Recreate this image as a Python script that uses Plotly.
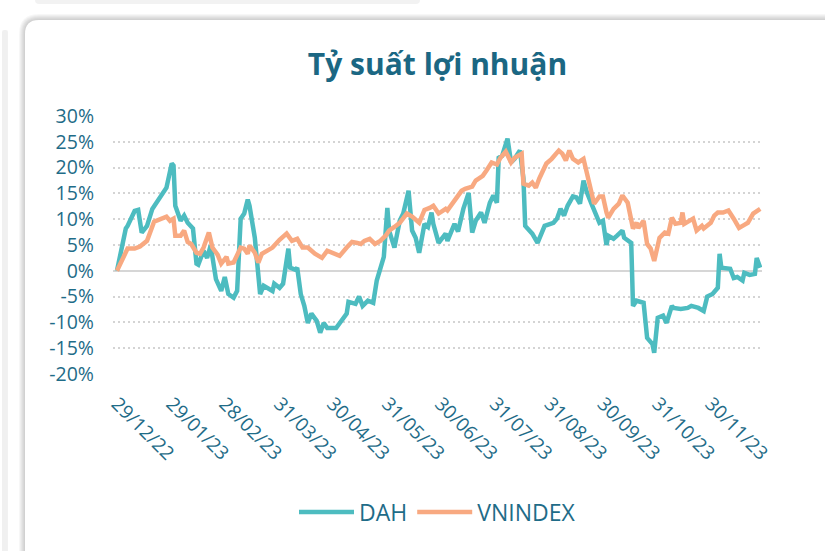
import plotly.graph_objects as go

# ---------------- data ----------------
dah_dates = ["2022-12-29","2023-01-03","2023-01-04","2023-01-08","2023-01-10","2023-01-12","2023-01-15","2023-01-18","2023-01-26","2023-01-29",
             "2023-01-30","2023-01-31","2023-02-03","2023-02-05","2023-02-07","2023-02-10","2023-02-12","2023-02-13","2023-02-16","2023-02-18",
             "2023-02-20","2023-02-23","2023-02-26","2023-02-28","2023-03-02","2023-03-05","2023-03-07","2023-03-09","2023-03-11","2023-03-13",
             "2023-03-14","2023-03-17","2023-03-20","2023-03-22","2023-03-27","2023-03-28","2023-03-31","2023-04-02","2023-04-05","2023-04-06",
             "2023-04-09","2023-04-10","2023-04-12","2023-04-14","2023-04-16","2023-04-18","2023-04-21","2023-04-23","2023-04-25","2023-04-27",
             "2023-05-02","2023-05-08","2023-05-09","2023-05-13","2023-05-15","2023-05-17","2023-05-20","2023-05-23","2023-05-25","2023-05-28",
             "2023-05-29","2023-05-31","2023-06-01","2023-06-04","2023-06-07","2023-06-09","2023-06-12","2023-06-14","2023-06-16","2023-06-18",
             "2023-06-20","2023-06-21","2023-06-23","2023-06-25","2023-06-26","2023-06-29","2023-07-03","2023-07-04","2023-07-08","2023-07-10",
             "2023-07-13","2023-07-16","2023-07-18","2023-07-20","2023-07-23","2023-07-25","2023-07-28","2023-07-30","2023-08-01","2023-08-02",
             "2023-08-04","2023-08-07","2023-08-09","2023-08-11","2023-08-14","2023-08-16","2023-08-17","2023-08-20","2023-08-21","2023-08-24",
             "2023-08-25","2023-08-28","2023-09-02","2023-09-04","2023-09-06","2023-09-08","2023-09-10","2023-09-13","2023-09-15","2023-09-17",
             "2023-09-19","2023-09-21","2023-09-24","2023-09-25","2023-09-28","2023-09-30","2023-10-02","2023-10-03","2023-10-06","2023-10-08",
             "2023-10-11","2023-10-12","2023-10-16","2023-10-17","2023-10-19","2023-10-23","2023-10-25","2023-10-28","2023-10-29","2023-10-31",
             "2023-11-03","2023-11-05","2023-11-08","2023-11-09","2023-11-13","2023-11-17","2023-11-19","2023-11-23","2023-11-26","2023-11-28",
             "2023-12-01","2023-12-04","2023-12-05","2023-12-06","2023-12-09","2023-12-11","2023-12-13","2023-12-15","2023-12-18","2023-12-19",
             "2023-12-22","2023-12-25","2023-12-26","2023-12-28"]
dah_values = [0, 8.2, 8.7, 11.6, 11.8, 7.4, 8.7, 12.0, 16.1, 20.8,
              20.4, 12.6, 9.7, 10.7, 9.3, 8.2, 1.4, 1.2, 3.9, 2.5,
              4.9, -1.6, -3.9, -1.2, -4.5, -5.2, -3.9, 10.1, 11.1, 13.8,
              12.6, 6.4, -4.5, -2.9, -3.9, -2.5, -3.3, -2.5, 4.3, 0.6,
              0.2, 0.6, -4.5, -6.8, -10.1, -8.3, -9.7, -12.0, -10.1, -11.1,
              -11.1, -8.3, -6.0, -6.4, -5.0, -6.8, -5.8, -6.2, -1.9, 1.9,
              2.7, 12.2, 7.8, 4.5, 9.7, 11.1, 15.5, 7.8, 6.4, 3.5,
              7.8, 9.1, 8.5, 11.3, 9.1, 5.4, 7.2, 5.8, 9.1, 7.6,
              12.0, 15.1, 7.4, 9.7, 11.3, 9.3, 13.2, 14.6, 13.2, 21.9,
              22.3, 25.6, 21.0, 21.7, 23.3, 17.9, 8.7, 7.4, 7.2, 5.4,
              6.2, 8.7, 9.3, 10.1, 12.0, 10.7, 12.6, 14.4, 14.2, 13.0,
              17.5, 15.1, 12.6, 11.7, 9.3, 9.7, 5.0, 6.8, 6.2, 6.8,
              7.8, 6.4, 5.4, -6.8, -5.8, -6.2, -13.0, -14.2, -15.9, -9.1,
              -8.7, -10.1, -6.8, -7.2, -7.4, -7.2, -6.8, -7.2, -7.8, -5.0,
              -4.5, -3.3, 3.3, 0.6, 0.4, 0.4, -1.4, -1.2, -1.9, -0.4,
              -0.8, -0.6, 2.5, 0.6]

vn_dates = ["2022-12-29","2023-01-01","2023-01-04","2023-01-08","2023-01-11","2023-01-15","2023-01-18","2023-01-19","2023-01-26","2023-01-28",
            "2023-01-30","2023-01-31","2023-02-03","2023-02-05","2023-02-07","2023-02-09","2023-02-12","2023-02-14","2023-02-16","2023-02-19",
            "2023-02-21","2023-02-24","2023-02-26","2023-03-01","2023-03-02","2023-03-05","2023-03-09","2023-03-11","2023-03-13","2023-03-14",
            "2023-03-17","2023-03-19","2023-03-21","2023-03-24","2023-03-27","2023-03-31","2023-04-04","2023-04-07","2023-04-10","2023-04-13",
            "2023-04-16","2023-04-20","2023-04-24","2023-04-27","2023-04-30","2023-05-04","2023-05-08","2023-05-11","2023-05-14","2023-05-16",
            "2023-05-18","2023-05-21","2023-05-24","2023-05-27","2023-05-30","2023-06-01","2023-06-04","2023-06-07","2023-06-11","2023-06-14",
            "2023-06-18","2023-06-21","2023-06-24","2023-06-26","2023-06-29","2023-07-03","2023-07-04","2023-07-08","2023-07-12","2023-07-14",
            "2023-07-18","2023-07-20","2023-07-24","2023-07-26","2023-07-29","2023-08-01","2023-08-03","2023-08-06","2023-08-09","2023-08-11",
            "2023-08-15","2023-08-16","2023-08-19","2023-08-21","2023-08-23","2023-08-25","2023-08-29","2023-09-01","2023-09-05","2023-09-07",
            "2023-09-09","2023-09-11","2023-09-13","2023-09-16","2023-09-19","2023-09-21","2023-09-24","2023-09-25","2023-09-28","2023-09-30",
            "2023-10-02","2023-10-03","2023-10-06","2023-10-09","2023-10-11","2023-10-14","2023-10-17","2023-10-19","2023-10-20","2023-10-23",
            "2023-10-25","2023-10-27","2023-10-29","2023-11-01","2023-11-04","2023-11-06","2023-11-08","2023-11-10","2023-11-13","2023-11-14",
            "2023-11-15","2023-11-18","2023-11-20","2023-11-22","2023-11-25","2023-11-26","2023-11-30","2023-12-02","2023-12-04","2023-12-07",
            "2023-12-10","2023-12-13","2023-12-16","2023-12-19","2023-12-21","2023-12-24","2023-12-27","2023-12-28"]
vn_values = [0, 2.3, 4.3, 4.3, 4.7, 5.8, 8.3, 9.5, 10.5, 9.7,
             10.1, 6.8, 6.8, 7.8, 5.6, 5.2, 3.5, 3.3, 4.5, 7.4,
             4.5, 3.1, 1.4, 2.7, 1.4, 1.6, 4.5, 4.3, 3.3, 4.9,
             3.5, 1.6, 3.3, 3.9, 4.5, 6.0, 7.2, 5.8, 6.2, 4.5,
             4.5, 3.3, 2.5, 3.9, 3.5, 2.9, 4.5, 5.6, 5.4, 5.2,
             5.8, 6.2, 5.2, 5.8, 6.8, 7.8, 8.5, 9.3, 11.1, 10.5,
             9.3, 11.8, 12.2, 12.6, 11.1, 12.0, 11.7, 13.6, 15.5, 15.9,
             16.3, 17.5, 18.4, 19.4, 21.0, 20.6, 21.9, 23.1, 21.0, 21.9,
             22.7, 16.9, 16.5, 17.1, 16.1, 17.9, 20.8, 21.7, 23.3, 22.7,
             21.4, 23.3, 21.7, 21.0, 21.7, 18.8, 14.6, 13.0, 14.4, 14.4,
             11.3, 10.3, 12.0, 13.0, 14.6, 13.2, 8.2, 9.3, 8.3, 9.7,
             5.2, 4.3, 1.9, 6.4, 7.4, 7.2, 10.3, 9.1, 9.3, 11.3,
             9.1, 9.7, 10.1, 7.8, 8.7, 8.2, 9.3, 10.7, 11.3, 11.3,
             11.7, 10.1, 8.3, 8.9, 9.3, 11.1, 11.8, 12.0]

x_tick_dates = ["2022-12-29","2023-01-29","2023-02-28","2023-03-31","2023-04-30","2023-05-31",
                "2023-06-30","2023-07-31","2023-08-31","2023-09-30","2023-10-31","2023-11-30"]
x_tick_labels = ["29/12/22","29/01/23","28/02/23","31/03/23","30/04/23","31/05/23",
                 "30/06/23","31/07/23","31/08/23","30/09/23","31/10/23","30/11/23"]
y_tick_values = [-20, -15, -10, -5, 0, 5, 10, 15, 20, 25, 30]
y_tick_labels = ["-20%", "-15%", "-10%", "-5%", "0%", "5%", "10%", "15%", "20%", "25%", "30%"]

# ---------------- layout geometry ----------------
W, H = 825, 551
L, R, T, B = 113, 762, 116, 374   # plot area in pixels
TEXT = "#1f6c88"
FONT = "Open Sans, Noto Sans, sans-serif"


def px(xp):
    return (xp - L) / (R - L)


def py(yp):
    return (B - yp) / (B - T)


def rounded_rect(x0, y0, x1, y1, r):
    # pixel coords -> paper path with quadratic rounded corners
    pts = [
        ("M", (x0 + r, y0)), ("L", (x1 - r, y0)), ("Q", (x1, y0), (x1, y0 + r)),
        ("L", (x1, y1 - r)), ("Q", (x1, y1), (x1 - r, y1)), ("L", (x0 + r, y1)),
        ("Q", (x0, y1), (x0, y1 - r)), ("L", (x0, y0 + r)), ("Q", (x0, y0), (x0 + r, y0)),
    ]
    s = ""
    for p in pts:
        cmd = p[0]
        coords = " ".join(f"{px(a):.5f},{py(b):.5f}" for a, b in p[1:])
        s += f"{cmd}{coords} "
    return s + "Z"


shapes = []
# faint neighbouring elements
shapes.append(dict(type="path", xref="paper", yref="paper", layer="below",
                   path=rounded_rect(2, 30, 8, 600, 2), fillcolor="rgba(0,0,0,0.06)", line=dict(width=0)))
shapes.append(dict(type="path", xref="paper", yref="paper", layer="below",
                   path=rounded_rect(35, -20, 420, 4, 4), fillcolor="rgba(0,0,0,0.05)", line=dict(width=0)))
# card shadow
for i in range(6, 0, -1):
    shapes.append(dict(type="path", xref="paper", yref="paper", layer="below",
                       path=rounded_rect(25 - i, 20 - i, 900 + i, 700 + i, 14 + i),
                       fillcolor="rgba(0,0,0,0.03)", line=dict(width=0)))
# card
shapes.append(dict(type="path", xref="paper", yref="paper", layer="below",
                   path=rounded_rect(25, 20, 900, 700, 14), fillcolor="white", line=dict(width=0)))

fig = go.Figure()
fig.add_trace(go.Scatter(x=dah_dates, y=dah_values, mode="lines", name="DAH",
                         line=dict(color="#4dbcc0", width=4.5)))
fig.add_trace(go.Scatter(x=vn_dates, y=vn_values, mode="lines", name="VNINDEX",
                         line=dict(color="#f8a981", width=4.5)))

fig.update_layout(
    width=W, height=H,
    margin=dict(l=L, r=W - R, t=T, b=H - B, pad=0),
    paper_bgcolor="white",
    plot_bgcolor="rgba(0,0,0,0)",
    shapes=shapes,
    title=dict(text="<b>Tỷ suất lợi nhuận</b>", x=0.5, xref="paper", xanchor="center",
               y=1 - 64 / H, yref="container", yanchor="middle",
               font=dict(family=FONT, size=30, color="#1b6783")),
    font=dict(family=FONT, color=TEXT),
    showlegend=True,
    legend=dict(orientation="h", x=0.5, xanchor="center", xref="paper",
                y=py(512), yanchor="middle", yref="paper",
                font=dict(family=FONT, size=23, color=TEXT), itemwidth=55,
                bgcolor="rgba(0,0,0,0)", traceorder="normal"),
    hovermode=False,
)
fig.update_xaxes(type="date", range=["2022-12-26 18:00", "2023-12-29"],
                 tickvals=x_tick_dates, ticktext=x_tick_labels, tickangle=45,
                 tickfont=dict(family=FONT, size=19, color=TEXT),
                 showgrid=False, zeroline=False, showline=False, ticks="",
                 ticklabelstandoff=14)
fig.update_yaxes(range=[-20, 30], tickvals=y_tick_values, ticktext=y_tick_labels,
                 tickfont=dict(family=FONT, size=19.5, color=TEXT),
                 showgrid=True, gridcolor="#d4d4d4", gridwidth=2, griddash="2px,3px",
                 zeroline=True, zerolinecolor="#d6d6d6", zerolinewidth=2,
                 showline=False, ticks="", ticklabelstandoff=18)

fig.write_html("out.html", config={"displayModeBar": False},
               post_script="document.body.style.margin='0';document.body.style.overflow='hidden';")
